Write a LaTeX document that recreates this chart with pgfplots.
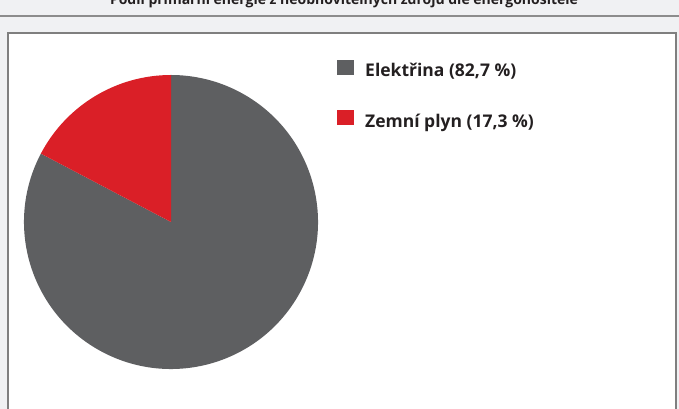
\documentclass[border=0pt]{standalone}
\usepackage{fontspec}
\setmainfont{Open Sans}
\usepackage{pgfplots}
\usepackage{pgfplotstable}
\pgfplotsset{compat=1.18}
\definecolor{bgcol}{HTML}{F0F1F3}
\definecolor{linecol}{HTML}{8C8C8C}
\definecolor{boxcol}{HTML}{7F7F7F}
\definecolor{pieGray}{HTML}{5E5F61}
\definecolor{pieRed}{HTML}{DA1F27}
\definecolor{txtcol}{HTML}{231F20}
\pgfplotstableread[col sep=comma]{
label,value
Elektřina,82.7
Zemní plyn,17.3
}\piedata
\pgfplotstablegetelem{0}{value}\of\piedata \let\valA\pgfplotsretval
\pgfplotstablegetelem{1}{value}\of\piedata \let\valB\pgfplotsretval
\pgfmathsetmacro\angB{90+3.6*\valB}
\begin{document}
\begin{tikzpicture}[x=1pt,y=1pt]
\useasboundingbox (0,0) rectangle (679,409);
\clip (0,0) rectangle (679,409);
\fill[bgcol] (0,0) rectangle (679,409);
\node[anchor=base, inner sep=0pt, font=\bfseries\fontsize{14}{17}\selectfont, text=txtcol] at (344,404) {Podíl primární energie z neobnovitelných zdrojů dle energonositele};
\draw[linecol, line width=1.5pt] (0,393) -- (679,393);
\draw[boxcol, line width=1.5pt, fill=white] (8,-10) rectangle (676,376);
\begin{axis}[
  at={(0pt,0pt)}, anchor=south west,
  width=679pt, height=409pt, scale only axis,
  xmin=0, xmax=679, ymin=0, ymax=409,
  hide axis, clip=false,
  legend style={at={(axis cs:337,349.5)}, anchor=north west, draw=none, fill=none,
    font=\bfseries\fontsize{17.5}{21}\selectfont, text=txtcol, inner sep=0pt,
    row sep=30pt, cells={anchor=west}},
  legend image code/.code={\fill[#1] (0pt,-4pt) rectangle (17pt,11pt);},
]
\fill[pieGray] (axis cs:171,187) -- +(\angB:147pt) arc[start angle=\angB, end angle=450, radius=147pt] -- cycle;
\fill[pieRed] (axis cs:171,187) -- +(90:147pt) arc[start angle=90, end angle=\angB, radius=147pt] -- cycle;
\addlegendimage{fill=pieGray, draw=none}
\addlegendentry{\hspace{9pt}Elektřina (82,7 \%)}
\addlegendimage{fill=pieRed, draw=none}
\addlegendentry{\hspace{9pt}Zemní plyn (17,3 \%)}
\end{axis}
\end{tikzpicture}
\end{document}
